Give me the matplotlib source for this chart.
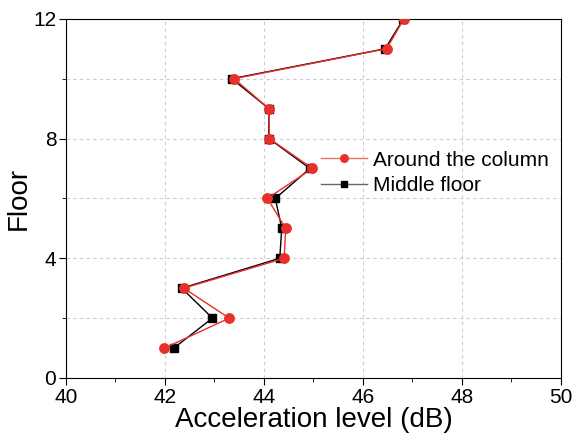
import numpy as np
import matplotlib.pyplot as plt
from matplotlib.ticker import MultipleLocator

plt.rcParams['font.family'] = ['Liberation Sans', 'DejaVu Sans']

# Stockwerke und Beschleunigungspegel (dB)
floor = [1, 2, 3, 4, 5, 6, 7, 8, 9, 10, 11, 12]
around_column = [41.99, 43.30, 42.38, 44.41, 44.44, 44.07, 44.98, 44.11, 44.10, 43.40, 46.48, 46.83]
middle_floor = [42.18, 42.96, 42.34, 44.32, 44.36, 44.23, 44.93, 44.10, 44.10, 43.35, 46.45, 46.82]

fig = plt.figure(figsize=(5.74, 4.38), dpi=100)
ax = fig.add_axes([0.115, 0.137, 0.862, 0.82])

ax.plot(middle_floor, floor, color='black', lw=1.0, marker='s', ms=5.5,
        label='Middle floor', zorder=3)
ax.plot(around_column, floor, color='#E8302A', lw=1.0, marker='o', ms=6.8,
        label='Around the column', zorder=4)

ax.set_xlim(40, 50)
ax.set_ylim(0, 12)
ax.xaxis.set_major_locator(MultipleLocator(2))
ax.xaxis.set_minor_locator(MultipleLocator(1))
ax.yaxis.set_major_locator(MultipleLocator(4))
ax.yaxis.set_minor_locator(MultipleLocator(2))
ax.tick_params(which='major', direction='out', length=5, labelsize=15, pad=2)
ax.tick_params(which='minor', direction='out', length=3)
ax.grid(True, which='major', axis='x', ls=(0, (3, 3)), color='#cccccc', lw=0.8)
ax.grid(True, which='both', axis='y', ls=(0, (3, 3)), color='#cccccc', lw=0.8)
ax.set_axisbelow(True)

ax.set_xlabel('Acceleration level (dB)', fontsize=20, labelpad=0)
ax.set_ylabel('Floor', fontsize=20, labelpad=1)

handles, labels = ax.get_legend_handles_labels()
leg = ax.legend(handles[::-1], labels[::-1], loc='upper left',
                bbox_to_anchor=(0.477, 0.685), frameon=False, fontsize=15,
                handlelength=2.2, handletextpad=0.3, labelspacing=0.3,
                markerscale=0.8)
# Legendenlinien etwas heller wie im Original
leg.get_lines()[0].set_color('#F07060')
leg.get_lines()[0].set_markerfacecolor('#E8302A')
leg.get_lines()[0].set_markeredgecolor('#E8302A')
leg.get_lines()[1].set_color('#666666')
leg.get_lines()[1].set_markerfacecolor('black')
leg.get_lines()[1].set_markeredgecolor('black')

fig.savefig('out.png', dpi=100)
